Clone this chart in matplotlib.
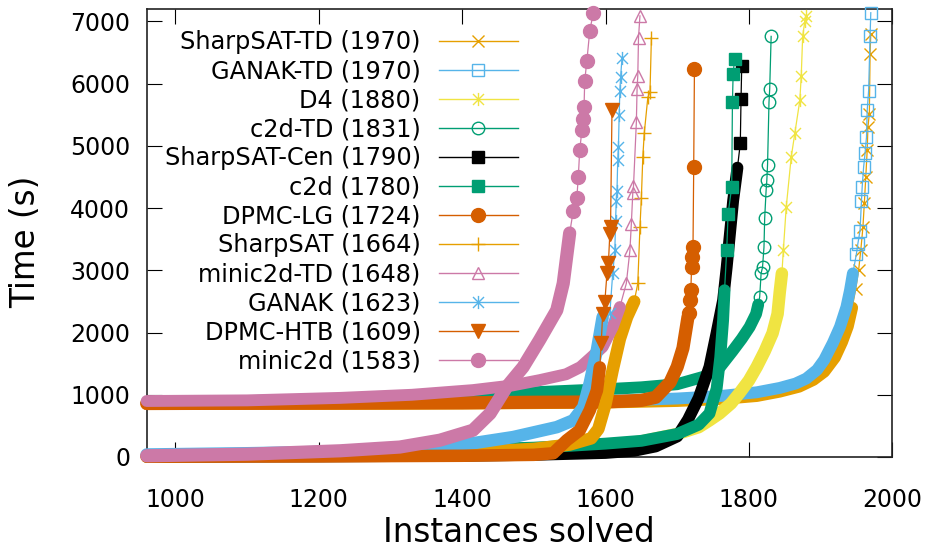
import matplotlib
matplotlib.use("Agg")
import matplotlib.pyplot as plt
from matplotlib.path import Path
from matplotlib.lines import Line2D

plt.rcParams['font.family'] = ['DejaVu Sans']

# ---------------- data ----------------
labels = ["SharpSAT-TD (1970)", "GANAK-TD (1970)", "D4 (1880)", "c2d-TD (1831)",
          "SharpSAT-Cen (1790)", "c2d (1780)", "DPMC-LG (1724)", "SharpSAT (1664)",
          "minic2d-TD (1648)", "GANAK (1623)", "DPMC-HTB (1609)", "minic2d (1583)"]

sharpsat_td_x = [960, 1300, 1500, 1600, 1700, 1760, 1811, 1843, 1870, 1890, 1905, 1920, 1930, 1938,
                 1944, 1949, 1953, 1956, 1959, 1961, 1963, 1965, 1966, 1968, 1969, 1970]
sharpsat_td_y = [850, 855, 865, 875, 900, 930, 980, 1050, 1130, 1240, 1370, 1600, 1850, 2100,
                 2400, 2700, 3000, 3320, 3690, 4080, 4500, 4930, 5300, 5520, 6480, 6800]

ganak_td_x = [960, 1300, 1500, 1600, 1700, 1760, 1811, 1843, 1865, 1880, 1895, 1905, 1917, 1927,
              1936, 1941, 1945, 1950, 1952, 1955, 1957, 1958, 1960, 1962, 1964, 1965, 1967, 1969, 1970]
ganak_td_y = [860, 870, 885, 900, 940, 980, 1040, 1110, 1180, 1260, 1400, 1560, 1830, 2090,
              2410, 2680, 2950, 3270, 3430, 3640, 4120, 4340, 4660, 4880, 5140, 5570, 5890, 6770, 7140]

d4_x = [960, 1200, 1400, 1500, 1600, 1650, 1700, 1730, 1745, 1759, 1775, 1787, 1800, 1811, 1822,
        1833, 1840, 1843, 1846, 1848, 1852, 1859, 1864, 1871, 1873, 1875, 1878, 1880]
d4_y = [10, 25, 50, 90, 170, 250, 370, 480, 590, 700, 860, 1030, 1230, 1450, 1700,
        1990, 2300, 2650, 2950, 3320, 4010, 4820, 5200, 5730, 6130, 6770, 7000, 7090]

c2d_td_x = [960, 1200, 1400, 1500, 1600, 1650, 1700, 1740, 1760, 1777, 1790, 1801, 1810, 1813,
            1815, 1817, 1819, 1821, 1822, 1824, 1825, 1826, 1828, 1829, 1831]
c2d_td_y = [870, 920, 990, 1040, 1090, 1120, 1170, 1300, 1450, 1700, 1900, 2090, 2300, 2450,
            2570, 2950, 3050, 3370, 3840, 4290, 4450, 4700, 5700, 5920, 6760]

sharpsat_cen_x = [960, 1200, 1400, 1500, 1600, 1640, 1670, 1700, 1715, 1730, 1745, 1755, 1764,
                  1769, 1778, 1784, 1788, 1789, 1790]
sharpsat_cen_y = [5, 10, 20, 35, 65, 100, 170, 330, 600, 950, 1450, 2000, 2520,
                  3050, 4120, 4650, 5040, 5760, 6290]

c2d_x = [960, 1200, 1400, 1500, 1550, 1600, 1650, 1700, 1730, 1745, 1755, 1760, 1764, 1766,
         1769, 1771, 1776, 1777, 1778, 1780]
c2d_y = [30, 60, 120, 150, 180, 215, 260, 370, 520, 700, 1100, 1600, 2200, 2680,
         3320, 3910, 4340, 5700, 6160, 6400]

dpmc_lg_x = [960, 1200, 1400, 1500, 1600, 1650, 1670, 1690, 1700, 1708, 1715, 1717, 1718, 1719,
             1720, 1721, 1722, 1723, 1724]
dpmc_lg_y = [860, 865, 870, 880, 885, 910, 960, 1200, 1450, 1750, 2250, 2310, 2520, 2680,
             3050, 3210, 3370, 4660, 6230]

sharpsat_x = [960, 1200, 1400, 1500, 1550, 1580, 1590, 1600, 1610, 1620, 1630, 1640, 1645, 1648,
              1650, 1652, 1654, 1659, 1662, 1664]
sharpsat_y = [15, 30, 70, 130, 200, 300, 450, 850, 1400, 1900, 2250, 2500, 2790, 3690,
              4170, 4820, 5200, 5780, 5860, 6740]

minic2d_td_x = [960, 1100, 1230, 1330, 1415, 1470, 1508, 1545, 1565, 1580, 1596, 1610, 1620,
                1629, 1634, 1636, 1638, 1639, 1643, 1644, 1645, 1646, 1648]
minic2d_td_y = [900, 910, 950, 1000, 1075, 1150, 1235, 1330, 1445, 1600, 1770, 2090, 2410,
                2790, 3320, 3750, 4240, 4350, 5380, 5920, 6130, 6740, 7090]

ganak_x = [960, 1100, 1200, 1300, 1355, 1420, 1471, 1532, 1555, 1569, 1578, 1588, 1596, 1606,
           1610, 1613, 1614, 1615, 1616, 1617, 1618, 1619, 1620, 1621, 1623]
ganak_y = [40, 60, 80, 120, 160, 230, 320, 480, 590, 800, 1190, 1720, 2250, 2310,
           2950, 3320, 3800, 4120, 4280, 4770, 4980, 5490, 5890, 6100, 6420]

dpmc_htb_x = [960, 1200, 1400, 1500, 1527, 1546, 1564, 1578, 1588, 1592, 1594, 1596, 1599, 1602,
              1604, 1606, 1607, 1609]
dpmc_htb_y = [5, 10, 20, 35, 60, 270, 430, 750, 1070, 1440, 1830, 2300, 2490, 2950,
              3110, 3590, 3700, 5570]

minic2d_x = [960, 1100, 1230, 1313, 1369, 1415, 1439, 1462, 1485, 1508, 1532, 1541, 1550, 1555,
             1560, 1562, 1564, 1567, 1569, 1570, 1571, 1574, 1578, 1583]
minic2d_y = [20, 45, 100, 160, 270, 430, 700, 1125, 1445, 1880, 2360, 2790, 3600, 3960,
             4170, 4500, 4930, 5250, 5440, 5620, 6050, 6370, 6850, 7140]

x_ticks = [1000, 1200, 1400, 1600, 1800, 2000]
y_ticks = [0, 1000, 2000, 3000, 4000, 5000, 6000, 7000]

# ---------------- styles ----------------
ORANGE, SKY, YELLOW, GREEN = '#E69F00', '#56B4E9', '#F0E442', '#009E73'
BLACK, VERM, PINK = '#000000', '#D55E00', '#CC79A7'

ast = Path([(-1, -1), (1, 1), (-1, 1), (1, -1), (0, -1.2), (0, 1.2)],
           [Path.MOVETO, Path.LINETO] * 3)

# (x, y, color, marker, filled, markersize, band ends at x)
styles = [
    (sharpsat_td_x, sharpsat_td_y, ORANGE, 'x', False, 9, 1944),
    (ganak_td_x, ganak_td_y, SKY, 's', False, 9, 1945),
    (d4_x, d4_y, YELLOW, ast, False, 9.5, 1846),
    (c2d_td_x, c2d_td_y, GREEN, 'o', False, 9, 1813),
    (sharpsat_cen_x, sharpsat_cen_y, BLACK, 's', True, 9, 1784),
    (c2d_x, c2d_y, GREEN, 's', True, 9, 1766),
    (dpmc_lg_x, dpmc_lg_y, VERM, 'o', True, 10, 1715),
    (sharpsat_x, sharpsat_y, ORANGE, '+', False, 9.5, 1640),
    (minic2d_td_x, minic2d_td_y, PINK, '^', False, 9, 1620),
    (ganak_x, ganak_y, SKY, ast, False, 9.5, 1596),
    (dpmc_htb_x, dpmc_htb_y, VERM, 'v', True, 9.5, 1592),
    (minic2d_x, minic2d_y, PINK, 'o', True, 10, 1550),
]

fig = plt.figure(figsize=(9.28, 5.5), dpi=100)
ax = fig.add_axes([146.7 / 928, 1 - 457 / 550, (892.3 - 146.7) / 928, (457 - 9) / 550])

handles = []
for i, (xs, ys, col, mk, filled, ms, band_end) in enumerate(styles):
    z = 2 + i * 3
    bx = [x for x in xs if x <= band_end]
    by = [y for x, y in zip(xs, ys) if x <= band_end]
    ax.plot(bx, by, color=col, lw=ms * 0.95, solid_capstyle='round',
            solid_joinstyle='round', zorder=z, clip_on=False)
    ax.plot(xs, ys, color=col, lw=0.9, zorder=z + 1, clip_on=False)
    idx = [k for k, x in enumerate(xs) if x > band_end]
    ax.plot([xs[k] for k in idx], [ys[k] for k in idx], ls='none', marker=mk, ms=ms,
            mfc=(col if filled else 'none'), mec=col, mew=1.0, zorder=z + 2, clip_on=False)
    handles.append(Line2D([], [], color=col, lw=1.0, marker=mk, ms=ms,
                          mfc=(col if filled else 'none'), mec=col, mew=1.0))

ax.set_xlim(960, 2000)
ax.set_ylim(0, 7200)
ax.set_xticks(x_ticks)
ax.set_yticks(y_ticks)
ax.tick_params(direction='in', length=10.8, width=0.8, top=True, right=True,
               labelsize=17)
ax.tick_params(axis='x', pad=22)
ax.tick_params(axis='y', pad=12)
for s in ax.spines.values():
    s.set_linewidth(1.2)
    s.set_color('#222222')

fig.text(518.5 / 928, 1 - 533 / 550, "Instances solved", fontsize=23.5,
         ha='center', va='center')
fig.text(26 / 928, 1 - 242 / 550, "Time (s)", fontsize=23.5, rotation=90,
         ha='center', va='center')

leg = ax.legend(handles, labels, loc='upper right', bbox_to_anchor=(0.498, 0.953),
                frameon=False, markerfirst=False, fontsize=17.3, handlelength=3.3,
                handletextpad=0.75, labelspacing=0.21, borderpad=0, borderaxespad=0)
leg.set_zorder(100)

fig.savefig("out.png", dpi=100)
